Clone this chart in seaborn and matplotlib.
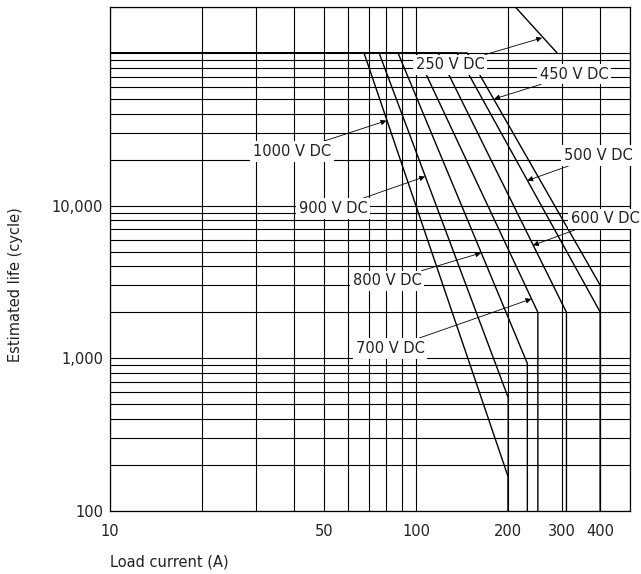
import pandas as pd
import seaborn as sns
import matplotlib.pyplot as plt
from matplotlib.ticker import NullFormatter

# values (log-log life curves)
voltages = ["1000 V DC", "900 V DC", "800 V DC", "700 V DC",
            "600 V DC", "500 V DC", "450 V DC", "250 V DC"]
currents = [
    [10, 67.6, 200, 200],
    [10, 75.7, 200, 200],
    [10, 87.3, 231, 231],
    [10, 100, 250, 250],
    [10, 118, 310, 310],
    [10, 136, 400, 400],
    [10, 147, 400, 400],
    [211, 289],
]
lives = [
    [100000, 100000, 167, 100],
    [100000, 100000, 553, 100],
    [100000, 100000, 925, 100],
    [100000, 100000, 2000, 100],
    [100000, 100000, 2000, 100],
    [100000, 100000, 2000, 100],
    [100000, 100000, 3000, 100],
    [200000, 100000],
]

# label text position and arrow tip (data coords)
label_pos = [(39.3, 22600), (53.6, 9560), (80.4, 3210), (82.2, 1164),
             (415, 8200), (393, 21300), (328, 72800), (129, 83400)]
arrow_tip = [(80, 36000), (107, 15500), (163, 4900), (238, 2450),
             (241, 5500), (231, 14600), (180, 50000), (258, 125600)]

x_ticks = [10, 50, 100, 200, 300, 400]
y_ticks = [100, 1000, 10000, 100000]
y_tick_labels = ["100", "1,000", "10,000", ""]

rows = []
for v, xs, ys in zip(voltages, currents, lives):
    for i, (c, l) in enumerate(zip(xs, ys)):
        rows.append({"voltage": v, "order": i, "current": c, "life": l})
df = pd.DataFrame(rows)

sns.set_style("white")
plt.rcParams['font.family'] = ['DejaVu Sans']

fig = plt.figure(figsize=(6.41, 5.74), dpi=100)
ax = fig.add_axes([110 / 641, 1 - 511 / 574, 520 / 641, 504 / 574])
ax.set_xscale('log')
ax.set_yscale('log')

sns.lineplot(data=df, x="current", y="life", units="voltage", estimator=None,
             sort=False, color="black", lw=1.0, ax=ax, legend=False, zorder=3)

ax.set_xlim(10, 500)
ax.set_ylim(100, 200000)

ax.set_xticks(x_ticks)
ax.set_xticklabels([str(t) for t in x_ticks])
ax.xaxis.set_minor_formatter(NullFormatter())
ax.set_yticks(y_ticks)
ax.set_yticklabels(y_tick_labels)
ax.yaxis.set_minor_formatter(NullFormatter())
ax.tick_params(which='both', length=0, labelsize=10.5, colors='#222222')
ax.tick_params(axis='x', pad=9)
ax.tick_params(axis='y', pad=5)

ax.grid(which='both', color='black', lw=0.8)
ax.set_axisbelow(True)
for s in ax.spines.values():
    s.set_color('black')
    s.set_linewidth(0.9)
    s.set_visible(True)

for v, (tx, ty), (ax_, ay) in zip(voltages, label_pos, arrow_tip):
    ax.annotate(v, xy=(ax_, ay), xytext=(tx, ty), ha='center', va='center',
                fontsize=10.5, color='#222222', zorder=5,
                bbox=dict(fc='white', ec='none', pad=2),
                arrowprops=dict(arrowstyle='-|>', color='black', lw=0.6,
                                mutation_scale=8, shrinkA=0, shrinkB=0))

ax.set_xlabel('Load current (A)', fontsize=10.5, color='#222222',
              ha='left', va='center')
ax.xaxis.set_label_coords(0, -0.101)
ax.set_ylabel('Estimated life (cycle)', fontsize=10.5, color='#222222',
              va='center')
ax.yaxis.set_label_coords(-0.181, 0.45)

fig.savefig('out.png', dpi=100)
